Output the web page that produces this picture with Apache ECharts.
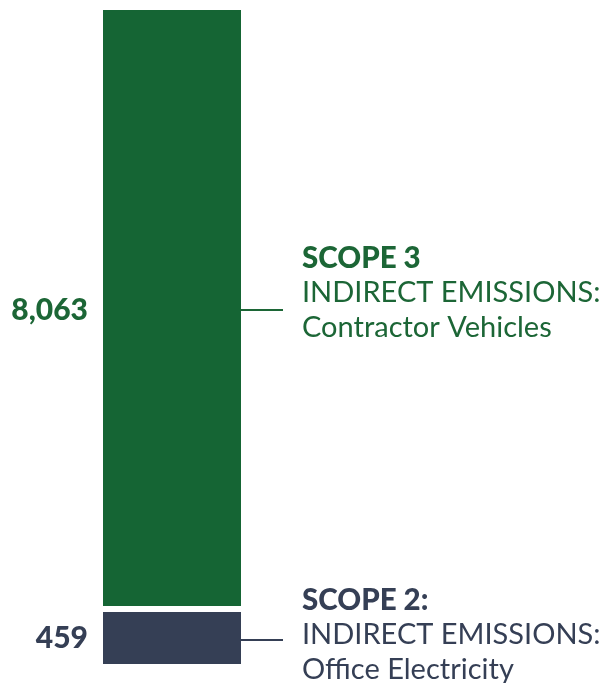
<!DOCTYPE html>
<html><head><meta charset="utf-8">
<script src="https://cdn.jsdelivr.net/npm/echarts@6/dist/echarts.min.js"></script>
<style>html,body{margin:0;padding:0;background:#fff}#c{width:603px;height:683px}</style>
</head><body><div id="c"></div>
<script>
const categories = ['Emissions'];
const scope3Values = [8063];
const scope2Values = [459];
const scope3Text = ['SCOPE 3', 'INDIRECT EMISSIONS:', 'Contractor Vehicles'];
const scope2Text = ['SCOPE 2:', 'INDIRECT EMISSIONS:', 'Office Electricity'];

const GREEN = '#156534', GREEN_TXT = '#1c6636', DARK = '#353f55';
const FONT = 'Lato';
const chart = echarts.init(document.getElementById('c'));
const fmt = v => v.toLocaleString('en-US');
function axes(i) {
  return {
    x: {type: 'category', data: categories, gridIndex: i, show: false, boundaryGap: true},
    y: {type: 'value', gridIndex: i, show: false, min: 0, max: i === 0 ? scope3Values[0] : scope2Values[0]}
  };
}
const a0 = axes(0), a1 = axes(1);
chart.setOption({
  animation: false,
  grid: [
    {left: 103, width: 138, top: 10, height: 596},
    {left: 103, width: 138, top: 612, height: 52}
  ],
  xAxis: [a0.x, a1.x],
  yAxis: [a0.y, a1.y],
  series: [
    {type: 'bar', xAxisIndex: 0, yAxisIndex: 0, data: scope3Values, barWidth: '100%',
      itemStyle: {color: GREEN},
      label: {show: true, position: 'left', distance: 15, formatter: p => fmt(p.value),
        color: GREEN_TXT, fontFamily: FONT, fontWeight: 900, fontSize: 30, offset: [0, 2]}},
    {type: 'bar', xAxisIndex: 1, yAxisIndex: 1, data: scope2Values, barWidth: '100%',
      itemStyle: {color: DARK},
      label: {show: true, position: 'left', distance: 15, formatter: p => fmt(p.value),
        color: DARK, fontFamily: FONT, fontWeight: 900, fontSize: 30}}
  ]
});

function annot(gridIndex, value, lines, color, yOffset) {
  const mid = chart.convertToPixel({gridIndex}, [categories[0], value / 2]);
  const barRight = 241;
  const y = mid[1];
  return [
    {type: 'line', shape: {x1: barRight, y1: y + 2, x2: barRight + 42, y2: y + 2},
      style: {stroke: color, lineWidth: 2}},
    {type: 'text', x: 302, y: y + yOffset,
      style: {
        text: '{b|' + lines[0] + '}\n{r|' + lines[1] + '}\n{r|' + lines[2] + '}',
        verticalAlign: 'middle',
        rich: {
          b: {fontFamily: FONT, fontWeight: 900, fontSize: 29.5, lineHeight: 34.5, fill: color},
          r: {fontFamily: FONT, fontSize: 29, lineHeight: 34.5, fill: color}
        }
      }}
  ];
}
chart.setOption({
  graphic: [
    ...annot(0, scope3Values[0], scope3Text, GREEN_TXT, -15),
    ...annot(1, scope2Values[0], scope2Text, DARK, -3)
  ]
});
</script></body></html>
